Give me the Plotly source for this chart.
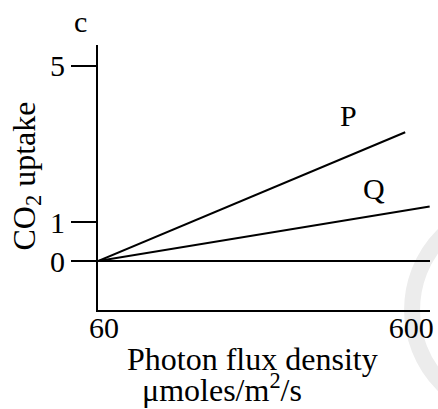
import plotly.graph_objects as go

# Data
p_light = [60, 600]
p_uptake = [0, 3.3]
q_light = [60, 643]
q_uptake = [0, 1.4]
x_tick_vals = [60, 600]
x_tick_text = ["60", "600"]
y_tick_vals = [0, 1, 5]
y_tick_text = ["0", "1", "5"]

FONT = "Liberation Serif"

fig = go.Figure()
fig.add_trace(go.Scatter(x=p_light, y=p_uptake, mode="lines",
                         line=dict(color="black", width=2), showlegend=False,
                         hoverinfo="skip"))
fig.add_trace(go.Scatter(x=q_light, y=q_uptake, mode="lines",
                         line=dict(color="black", width=2), showlegend=False,
                         hoverinfo="skip"))

# faint watermark arc at the right edge
fig.add_shape(type="circle", xref="paper", yref="paper",
              x0=0.946, x1=1.57, y0=-0.396, y1=0.396,
              line=dict(color="#ececec", width=16), layer="below")


def note(text, x, y, size, xref="paper", yref="paper", angle=0):
    fig.add_annotation(text=text, x=x, y=y, xref=xref, yref=yref,
                       xanchor="center", yanchor="middle", textangle=angle,
                       showarrow=False,
                       font=dict(family=FONT, size=size, color="black"))


note("P", 501, 3.72, 30, "x", "y")
note("Q", 546, 1.87, 30, "x", "y")
note("c", -0.054, 1.09, 30)
note("CO<sub>2</sub> uptake", -0.215, 0.506, 32, angle=-90)
note("Photon flux density", 0.4657, -0.186, 32)
note("μmoles/m<sup>2</sup>/s", 0.372, -0.296, 32)

fig.update_layout(
    width=438, height=409,
    margin=dict(l=98, r=5, t=45, b=99),
    paper_bgcolor="white", plot_bgcolor="white",
    font=dict(family=FONT, size=30, color="black"),
    xaxis=dict(range=[60, 643.6], showline=True, linecolor="black", linewidth=2,
               showgrid=False, zeroline=False, ticks="",
               tickvals=x_tick_vals, ticktext=x_tick_text,
               tickfont=dict(family=FONT, size=30, color="black"),
               ticklabelshift=6, ticklabelstandoff=-10),
    yaxis=dict(range=[-1.256, 5.538], showline=True, linecolor="black", linewidth=2,
               showgrid=False, zeroline=True, zerolinecolor="black", zerolinewidth=2,
               ticks="outside", ticklen=25, tickwidth=2, tickcolor="black",
               tickvals=y_tick_vals, ticktext=y_tick_text,
               tickfont=dict(family=FONT, size=30, color="black")),
)

# remove the browser's default 8px body margin so the figure fills the window
fig.write_html("out.html",
               config={"displayModeBar": False},
               post_script="document.body.style.margin='0';document.body.style.overflow='hidden';")
